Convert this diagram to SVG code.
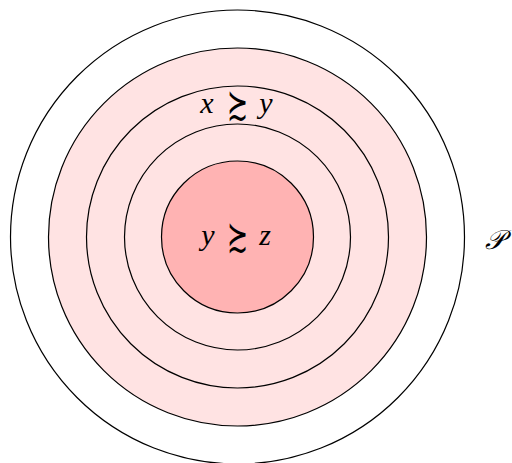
<svg xmlns="http://www.w3.org/2000/svg" width="512" height="463" viewBox="0 0 512 463">
<style>
.ring{stroke:#000;stroke-width:1.2}
.t{font-family:"Liberation Serif","DejaVu Serif",serif;font-size:30px;text-anchor:middle;font-style:italic}
.s{font-family:"DejaVu Sans",sans-serif;font-size:30px;font-weight:200;text-anchor:middle}
.p{font-family:"DejaVu Serif","Liberation Serif",serif;font-size:27px;font-style:italic}
</style>
<rect width="512" height="463" fill="#fff"/>
<g id="outer"><circle class="ring" cx="237.5" cy="237" r="227" fill="none"/></g>
<g id="ring1"><circle class="ring" cx="237.5" cy="237" r="189" fill="#ffe3e3"/></g>
<g id="ring2"><circle class="ring" cx="237.5" cy="237" r="151" fill="none"/></g>
<g id="ring3"><circle class="ring" cx="237.5" cy="237" r="113" fill="none"/></g>
<g id="inner"><circle class="ring" cx="237.5" cy="237" r="76" fill="#ffb3b3"/></g>
<g id="labels">
<text class="t" x="207" y="113">x</text><text class="s" transform="translate(237.5 118) scale(0.85 1.35)">≿</text><text class="t" x="266" y="113">y</text>
<text class="t" x="208" y="245">y</text><text class="s" transform="translate(237.5 250) scale(0.85 1.35)">≿</text><text class="t" x="265" y="245">z</text>
<text class="p" x="485" y="249">𝒫</text>
</g>
</svg>
